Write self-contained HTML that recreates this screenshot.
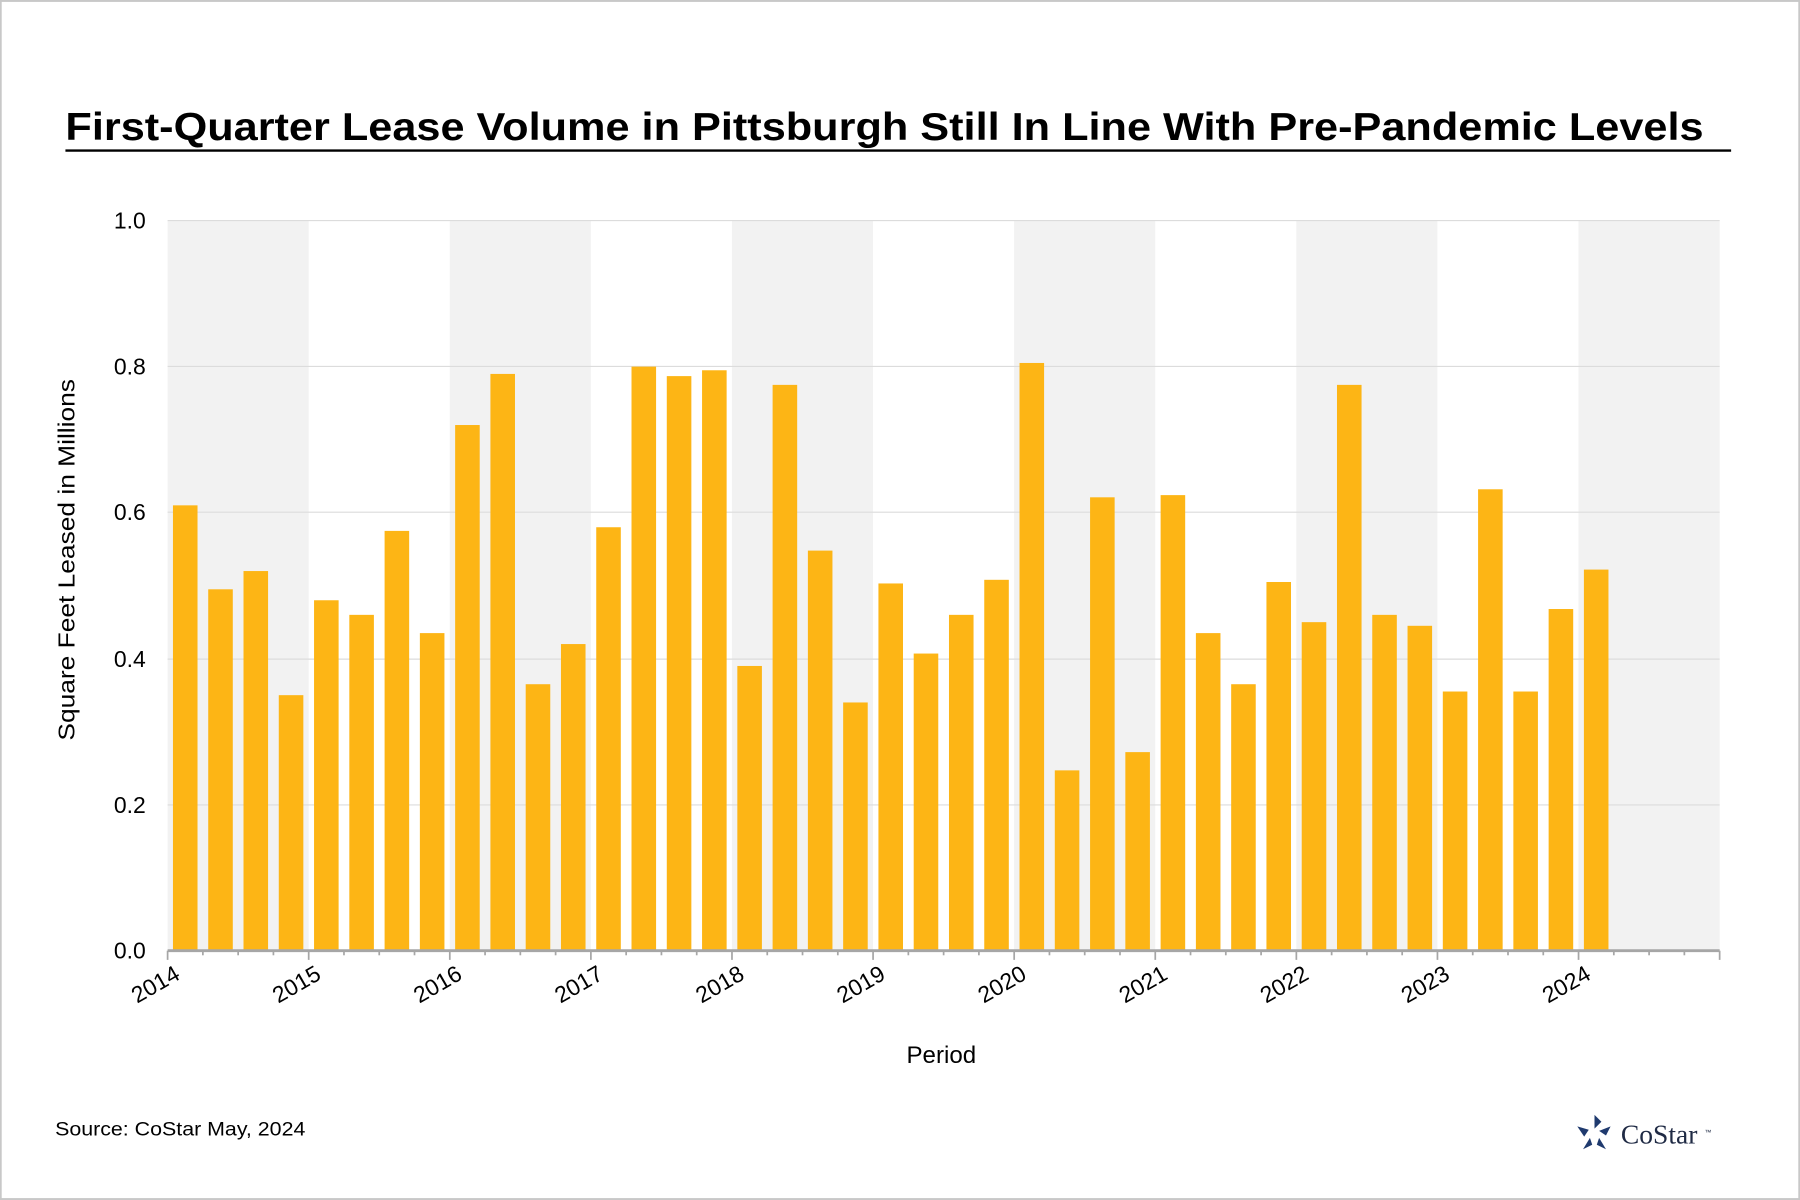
<!DOCTYPE html>
<html><head><style>html,body{margin:0;padding:0;background:#fff}svg{display:block}</style></head>
<body>
<svg width="1800" height="1200" viewBox="0 0 1568 1045" xmlns="http://www.w3.org/2000/svg" font-family="Liberation Sans, Arial, sans-serif">
<rect x="0.5" y="0.5" width="1567" height="1044" fill="#fff" stroke="#c8c8c8" stroke-width="2"/>
<text x="57" y="122" font-size="34" font-weight="bold" fill="#000" textLength="1427" lengthAdjust="spacingAndGlyphs">First-Quarter Lease Volume in Pittsburgh Still In Line With Pre-Pandemic Levels</text>
<line x1="57" y1="131" x2="1508" y2="131" stroke="#000" stroke-width="2"/>
<g fill="#f2f2f2">
<rect x="146" y="192" width="122.9" height="636"/>
<rect x="391.8" y="192" width="122.9" height="636"/>
<rect x="637.6" y="192" width="122.9" height="636"/>
<rect x="883.4" y="192" width="122.9" height="636"/>
<rect x="1129.2" y="192" width="122.9" height="636"/>
<rect x="1375" y="192" width="123" height="636"/>
</g>
<g stroke="#dcdcdc" stroke-width="1">
<line x1="146" y1="192" x2="1498" y2="192"/>
<line x1="146" y1="319" x2="1498" y2="319"/>
<line x1="146" y1="446" x2="1498" y2="446"/>
<line x1="146" y1="574" x2="1498" y2="574"/>
<line x1="146" y1="701" x2="1498" y2="701"/>
</g>
<g id="bars" fill="#fdb515"></g>
<line x1="146" y1="828" x2="1498" y2="828" stroke="#a6a6a6" stroke-width="2.5"/>
<g id="ticks" stroke="#a6a6a6" stroke-width="1.5"></g>
<g font-size="20" fill="#000" text-anchor="end">
<text x="127" y="199">1.0</text><text x="127" y="326">0.8</text><text x="127" y="453">0.6</text>
<text x="127" y="581">0.4</text><text x="127" y="708">0.2</text><text x="127" y="835">0.0</text>
</g>
<g id="xl" font-size="20" fill="#000" text-anchor="end"></g>
<text transform="translate(65,645) rotate(-90)" font-size="20" textLength="315" lengthAdjust="spacingAndGlyphs">Square Feet Leased in Millions</text>
<text x="820" y="926" font-size="21" text-anchor="middle">Period</text>
<text x="48" y="989" font-size="17" textLength="218" lengthAdjust="spacingAndGlyphs">Source:  CoStar May, 2024</text>
<g transform="translate(1389,987)" fill="#1f3a6e">
<polygon points="0,-16 6,-10 0,-4"/><polygon points="14,-6 10,2 4,-2"/><polygon points="10,14 2,10 4,4"/><polygon points="-10,14 -4,4 -2,10"/><polygon points="-15,-6 -5,-3 -9,3"/>
</g>
<text x="1412" y="996" font-size="24" font-family="Liberation Serif, serif" fill="#1f2a44">CoStar</text>
<text x="1485" y="988" font-size="6" fill="#1f2a44">™</text>
<script>
var v=[0.61,0.495,0.52,0.35,0.48,0.46,0.575,0.435,0.72,0.79,0.365,0.42,0.58,0.80,0.787,0.795,0.39,0.775,0.548,0.34,0.503,0.407,0.46,0.508,0.805,0.247,0.621,0.272,0.624,0.435,0.365,0.505,0.45,0.775,0.46,0.445,0.355,0.632,0.355,0.468,0.522];
var ns="http://www.w3.org/2000/svg",q=(1498-146)/44,b=document.getElementById("bars");
v.forEach(function(d,i){var r=document.createElementNS(ns,"rect");var c=146+q*(i+0.5);r.setAttribute("x",c-10.7);r.setAttribute("width",21.4);r.setAttribute("y",828-d*636);r.setAttribute("height",d*636);b.appendChild(r);});
var t=document.getElementById("ticks");
for(var i=0;i<=44;i++){var x=146+q*i;var l=document.createElementNS(ns,"line");l.setAttribute("x1",x);l.setAttribute("x2",x);l.setAttribute("y1",828);l.setAttribute("y2",i%4==0?836:832);t.appendChild(l);}
var xl=document.getElementById("xl");
for(var k=0;k<11;k++){var x=146+q*4*k;var tx=document.createElementNS(ns,"text");tx.setAttribute("transform","translate("+(x+12)+",852) rotate(-30)");tx.textContent=2014+k;xl.appendChild(tx);}
</script>
</svg>
</body></html>
